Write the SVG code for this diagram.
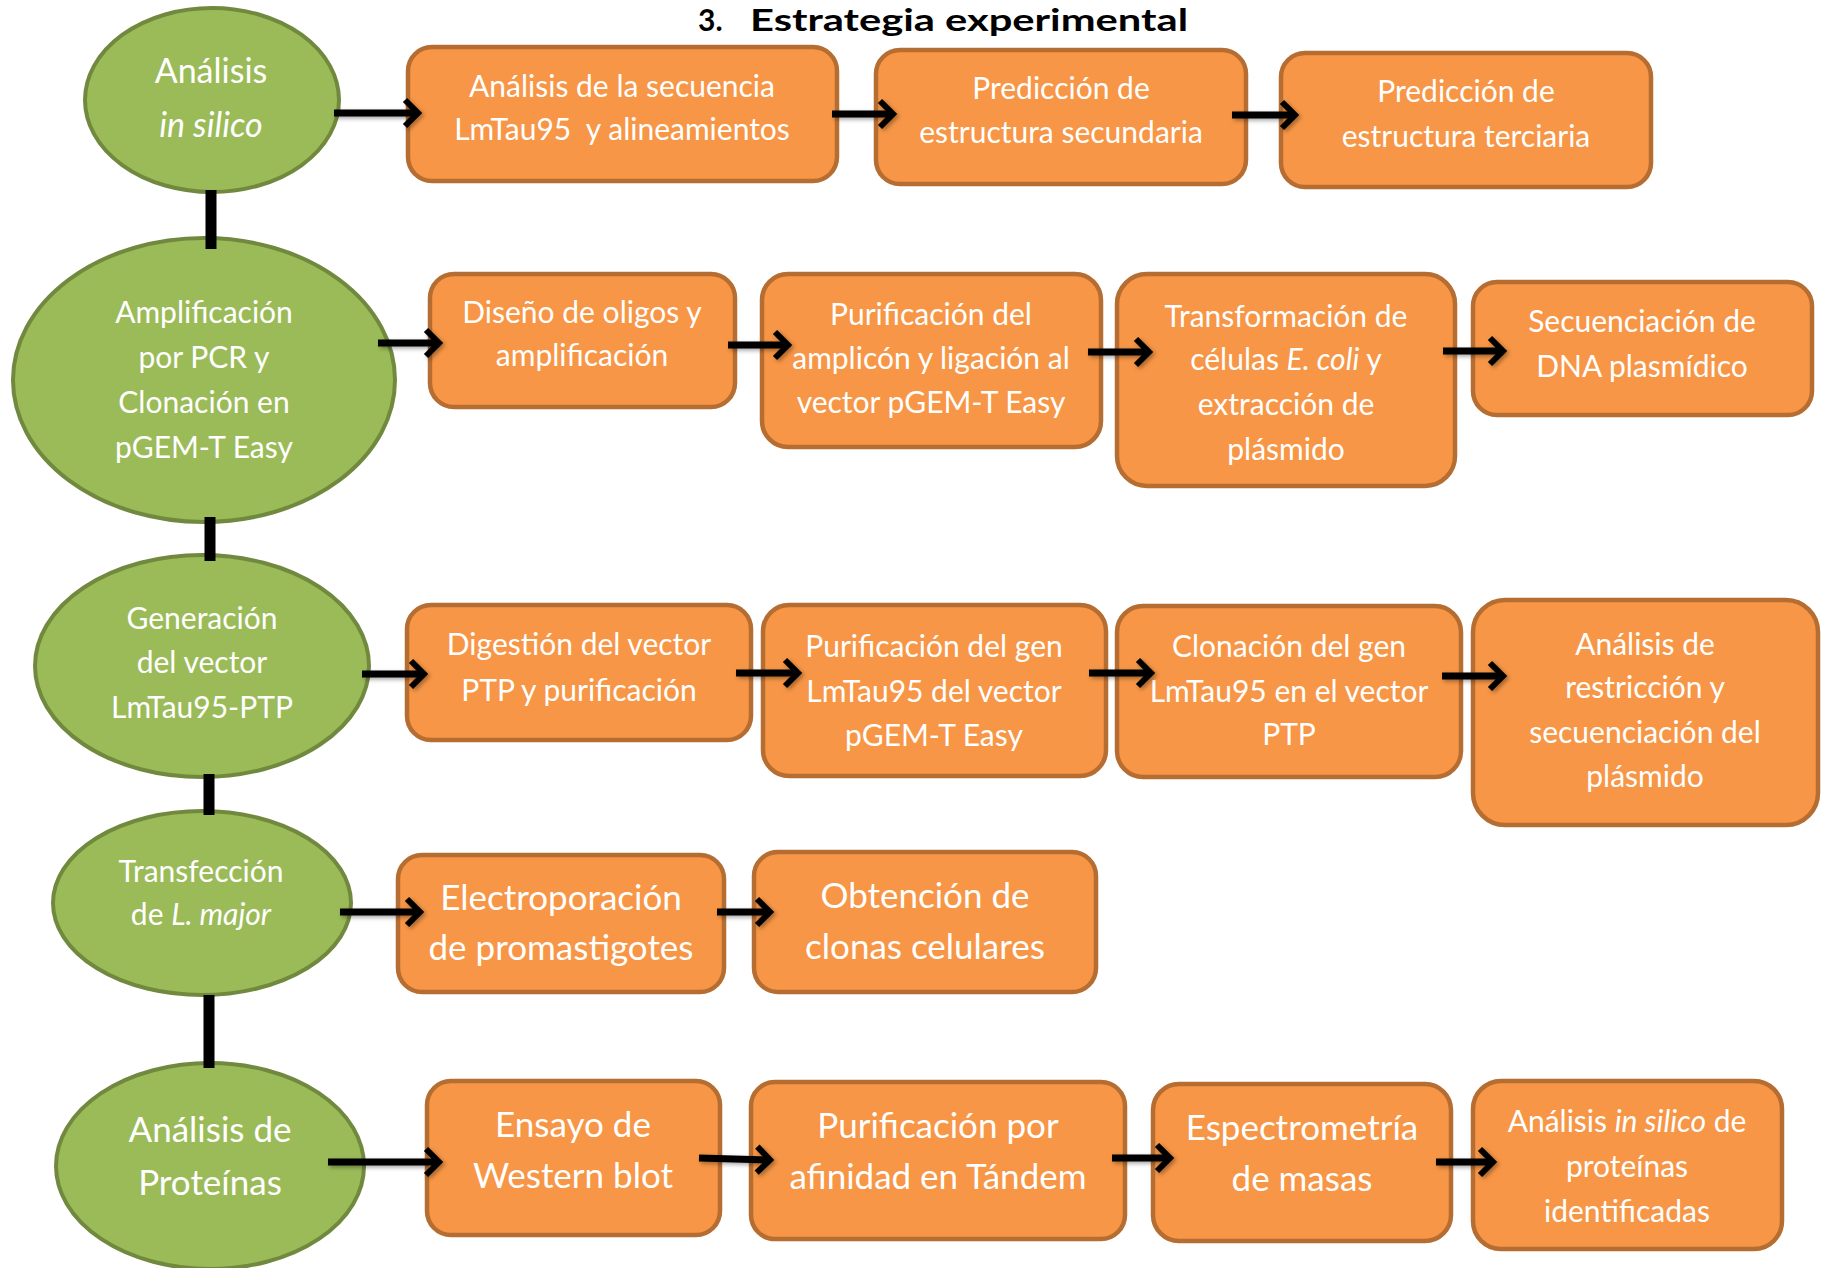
<svg xmlns="http://www.w3.org/2000/svg" width="1825" height="1268" viewBox="0 0 1825 1268">
<style>
.ell{fill:#9BBB59;stroke:#71893E;stroke-width:4}
.box{fill:#F79646;stroke:#B66D31;stroke-width:4.5}
.t{font-family:Lato,"Open Sans","Liberation Sans",sans-serif;fill:#FFFFFF;text-anchor:middle;font-size:30px}
.big{font-size:35px}
.it{font-style:italic}
.arr{stroke:#000;stroke-width:7;fill:none;marker-end:url(#ah)}
.vl{fill:#000}
.title{font-family:Lato,"Open Sans","Liberation Sans",sans-serif;font-weight:bold;font-size:30px;fill:#000}
</style>
<defs>
<marker id="ah" markerUnits="userSpaceOnUse" markerWidth="40" markerHeight="40" viewBox="-20 -20 40 40" refX="0" refY="0" orient="auto" overflow="visible">
<path d="M-13,-13 L0,0 L-13,13" fill="none" stroke="#000" stroke-width="6"/>
</marker>
<filter id="sh" x="-20%" y="-50%" width="140%" height="200%">
<feDropShadow dx="2" dy="2" stdDeviation="2" flood-color="#000" flood-opacity="0.35"/>
</filter>
</defs>
<rect width="1825" height="1268" fill="#FFFFFF"/>
<g id="title">
<text class="title" x="698" y="31">3.</text>
<text class="title" x="750" y="31" textLength="438" lengthAdjust="spacingAndGlyphs">Estrategia experimental</text>
</g>
<g id="e1"><ellipse class="ell" cx="212" cy="100" rx="127" ry="92"/>
<text class="t" x="211" y="83" style="font-size:34px">Análisis</text>
<text class="t it" x="211" y="137" style="font-size:34px">in silico</text></g>
<g id="e2"><ellipse class="ell" cx="204" cy="380" rx="191" ry="142"/>
<text class="t" x="204" y="323">Amplificación</text>
<text class="t" x="204" y="368">por PCR y</text>
<text class="t" x="204" y="413">Clonación en</text>
<text class="t" x="204" y="458">pGEM-T Easy</text></g>
<g id="e3"><ellipse class="ell" cx="202" cy="666" rx="167" ry="111"/>
<text class="t" x="202" y="629">Generación</text>
<text class="t" x="202" y="673">del vector</text>
<text class="t" x="202" y="718">LmTau95-PTP</text></g>
<g id="e4"><ellipse class="ell" cx="202" cy="903" rx="149" ry="92"/>
<text class="t" x="201" y="882">Transfección</text>
<text class="t" x="201" y="925">de <tspan class="it">L. major</tspan></text></g>
<g id="e5"><ellipse class="ell" cx="210" cy="1166" rx="154" ry="103"/>
<text class="t big" x="210" y="1142">Análisis de</text>
<text class="t big" x="210" y="1195">Proteínas</text></g>

<g id="b1"><rect class="box" x="408" y="47" width="429" height="134" rx="24"/>
<text class="t" x="622" y="97">Análisis de la secuencia</text>
<text class="t" x="622" y="140">LmTau95&#160; y alineamientos</text></g>
<g id="b2"><rect class="box" x="876" y="50" width="370" height="134" rx="24"/>
<text class="t" x="1061" y="99">Predicción de</text>
<text class="t" x="1061" y="143">estructura secundaria</text></g>
<g id="b3"><rect class="box" x="1281" y="53" width="370" height="134" rx="24"/>
<text class="t" x="1466" y="102">Predicción de</text>
<text class="t" x="1466" y="147">estructura terciaria</text></g>

<g id="b4"><rect class="box" x="430" y="274" width="305" height="133" rx="24"/>
<text class="t" x="582" y="323">Diseño de oligos y</text>
<text class="t" x="582" y="366">amplificación</text></g>
<g id="b5"><rect class="box" x="762" y="274" width="339" height="173" rx="26"/>
<text class="t" x="931" y="325">Purificación del</text>
<text class="t" x="931" y="369">amplicón y ligación al</text>
<text class="t" x="931" y="413">vector pGEM-T Easy</text></g>
<g id="b6"><rect class="box" x="1117" y="274" width="338" height="212" rx="30"/>
<text class="t" x="1286" y="327">Transformación de</text>
<text class="t" x="1286" y="370">células <tspan class="it">E. coli</tspan> y</text>
<text class="t" x="1286" y="415">extracción de</text>
<text class="t" x="1286" y="460">plásmido</text></g>
<g id="b7"><rect class="box" x="1473" y="282" width="339" height="133" rx="24"/>
<text class="t" x="1642" y="332">Secuenciación de</text>
<text class="t" x="1642" y="377">DNA plasmídico</text></g>

<g id="b8"><rect class="box" x="407" y="605" width="344" height="135" rx="24"/>
<text class="t" x="579" y="655">Digestión del vector</text>
<text class="t" x="579" y="701">PTP y purificación</text></g>
<g id="b9"><rect class="box" x="763" y="605" width="343" height="171" rx="26"/>
<text class="t" x="934" y="657">Purificación del gen</text>
<text class="t" x="934" y="702">LmTau95 del vector</text>
<text class="t" x="934" y="746">pGEM-T Easy</text></g>
<g id="b10"><rect class="box" x="1117" y="606" width="344" height="171" rx="26"/>
<text class="t" x="1289" y="657">Clonación del gen</text>
<text class="t" x="1289" y="702">LmTau95 en el vector</text>
<text class="t" x="1289" y="745">PTP</text></g>
<g id="b11"><rect class="box" x="1473" y="600" width="345" height="225" rx="32"/>
<text class="t" x="1645" y="655">Análisis de</text>
<text class="t" x="1645" y="698">restricción y</text>
<text class="t" x="1645" y="743">secuenciación del</text>
<text class="t" x="1645" y="787">plásmido</text></g>

<g id="b12"><rect class="box" x="398" y="855" width="326" height="137" rx="24"/>
<text class="t big" x="561" y="910">Electroporación</text>
<text class="t big" x="561" y="960">de promastigotes</text></g>
<g id="b13"><rect class="box" x="754" y="852" width="342" height="140" rx="24"/>
<text class="t big" x="925" y="908">Obtención de</text>
<text class="t big" x="925" y="959">clonas celulares</text></g>

<g id="b14"><rect class="box" x="427" y="1081" width="293" height="154" rx="24"/>
<text class="t big" x="573" y="1137">Ensayo de</text>
<text class="t big" x="573" y="1188">Western blot</text></g>
<g id="b15"><rect class="box" x="751" y="1082" width="374" height="157" rx="24"/>
<text class="t big" x="938" y="1138">Purificación por</text>
<text class="t big" x="938" y="1189">afinidad en Tándem</text></g>
<g id="b16"><rect class="box" x="1153" y="1084" width="298" height="157" rx="26"/>
<text class="t big" x="1302" y="1140">Espectrometría</text>
<text class="t big" x="1302" y="1191">de masas</text></g>
<g id="b17"><rect class="box" x="1473" y="1081" width="309" height="168" rx="28"/>
<text class="t" x="1627" y="1132">Análisis <tspan class="it">in silico</tspan> de</text>
<text class="t" x="1627" y="1177">proteínas</text>
<text class="t" x="1627" y="1222">identificadas</text></g>

<g id="connectors">
<rect class="vl" x="205.5" y="190" width="11" height="59"/>
<rect class="vl" x="204.5" y="517" width="11" height="44"/>
<rect class="vl" x="203.5" y="774" width="11" height="41"/>
<rect class="vl" x="203.5" y="995" width="11" height="73"/>
<g filter="url(#sh)">
<line class="arr" x1="334" y1="113" x2="418" y2="113"/>
<line class="arr" x1="832" y1="114" x2="893" y2="114"/>
<line class="arr" x1="1232" y1="115" x2="1295" y2="115"/>
<line class="arr" x1="378" y1="343" x2="439" y2="343"/>
<line class="arr" x1="728" y1="345" x2="788" y2="345"/>
<line class="arr" x1="1088" y1="352" x2="1149" y2="352"/>
<line class="arr" x1="1443" y1="351" x2="1503" y2="351"/>
<line class="arr" x1="362" y1="674" x2="424" y2="674"/>
<line class="arr" x1="736" y1="673" x2="798" y2="673"/>
<line class="arr" x1="1089" y1="673" x2="1151" y2="673"/>
<line class="arr" x1="1442" y1="676" x2="1503" y2="676"/>
<line class="arr" x1="340" y1="912" x2="420" y2="912"/>
<line class="arr" x1="717" y1="912" x2="770" y2="912"/>
<line class="arr" x1="328" y1="1162" x2="439" y2="1162"/>
<line class="arr" x1="699" y1="1158" x2="770" y2="1160"/>
<line class="arr" x1="1112" y1="1158" x2="1170" y2="1158"/>
<line class="arr" x1="1436" y1="1162" x2="1493" y2="1162"/>
</g>
</g>
</svg>
